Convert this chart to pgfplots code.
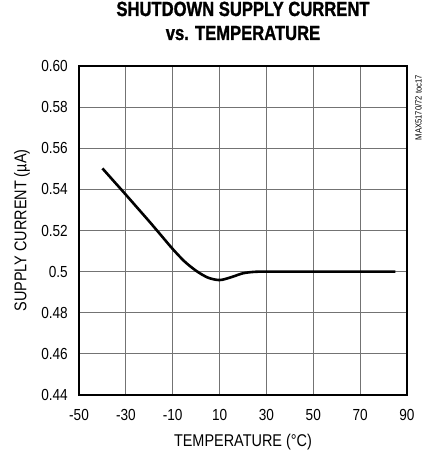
\documentclass[border=0pt]{standalone}
\usepackage{fontspec}
\setmainfont{Liberation Sans}[FakeStretch=0.85]
\newfontfamily\titlefont{Liberation Sans Bold}[FakeStretch=0.81,FakeBold=1.2]
\usepackage{pgfplots}
\pgfplotsset{compat=1.18}
\begin{document}
\begin{tikzpicture}
\path[use as bounding box] (0,0) rectangle (430pt,450pt);
\begin{axis}[
  at={(79pt,55pt)}, anchor=south west,
  scale only axis, width=328pt, height=329pt,
  xmin=-50, xmax=90, ymin=0.44, ymax=0.60,
  xtick={-50,-30,...,90},
  ytick={0.44,0.46,0.48,0.50,0.52,0.54,0.56,0.58,0.60},
  yticklabels={0.44,0.46,0.48,0.5,0.52,0.54,0.56,0.58,0.60},
  /pgf/number format/assume math mode=true,
  tick style={draw=none}, major tick length=0pt,
  grid=major, major grid style={draw=black!55, line width=1pt},
  axis line style={line width=2.6pt, black},
  ticklabel style={font=\fontsize{16}{18}\selectfont},
  xticklabel style={anchor=base, yshift=-25.7pt, inner sep=0pt},
  yticklabel style={anchor=east, xshift=-11pt, inner sep=0pt},
  every axis x label/.style={at={(rel axis cs:0.5,0)}, anchor=base, yshift=-51pt, font=\fontsize{17}{19}\selectfont},
  every axis y label/.style={at={(rel axis cs:0,0.5)}, rotate=90, anchor=center, yshift=57pt, font=\fontsize{17}{19}\selectfont},
  xlabel={TEMPERATURE (°C)},
  ylabel={SUPPLY CURRENT (µA)},
  title={SHUTDOWN SUPPLY CURRENT\\vs. TEMPERATURE},
  title style={at={(rel axis cs:0.5,1)}, anchor=base, yshift=350pt-329pt-1pt, align=center, font=\titlefont\fontsize{20.5}{24}\selectfont},
  clip=false,
]
\addplot[black, line width=2.6pt, smooth] coordinates {
(-40,0.5502) (-35,0.5438) (-30,0.5374) (-25,0.5309) (-20,0.5244) (-15,0.5177)
(-10,0.5110) (-5,0.5050) (0,0.5004) (5,0.4971) (10,0.4959) (15,0.4973)
(20,0.4992) (25,0.4999) (30,0.5000) (50,0.5000) (70,0.5000) (85,0.5000)
};
\node[rotate=90, anchor=south east, inner sep=0pt, font=\fontsize{9}{10}\selectfont] at ([xshift=15pt,yshift=-9pt]rel axis cs:1,1) {MAX5170/72 toc17};
\end{axis}
\end{tikzpicture}
\end{document}
